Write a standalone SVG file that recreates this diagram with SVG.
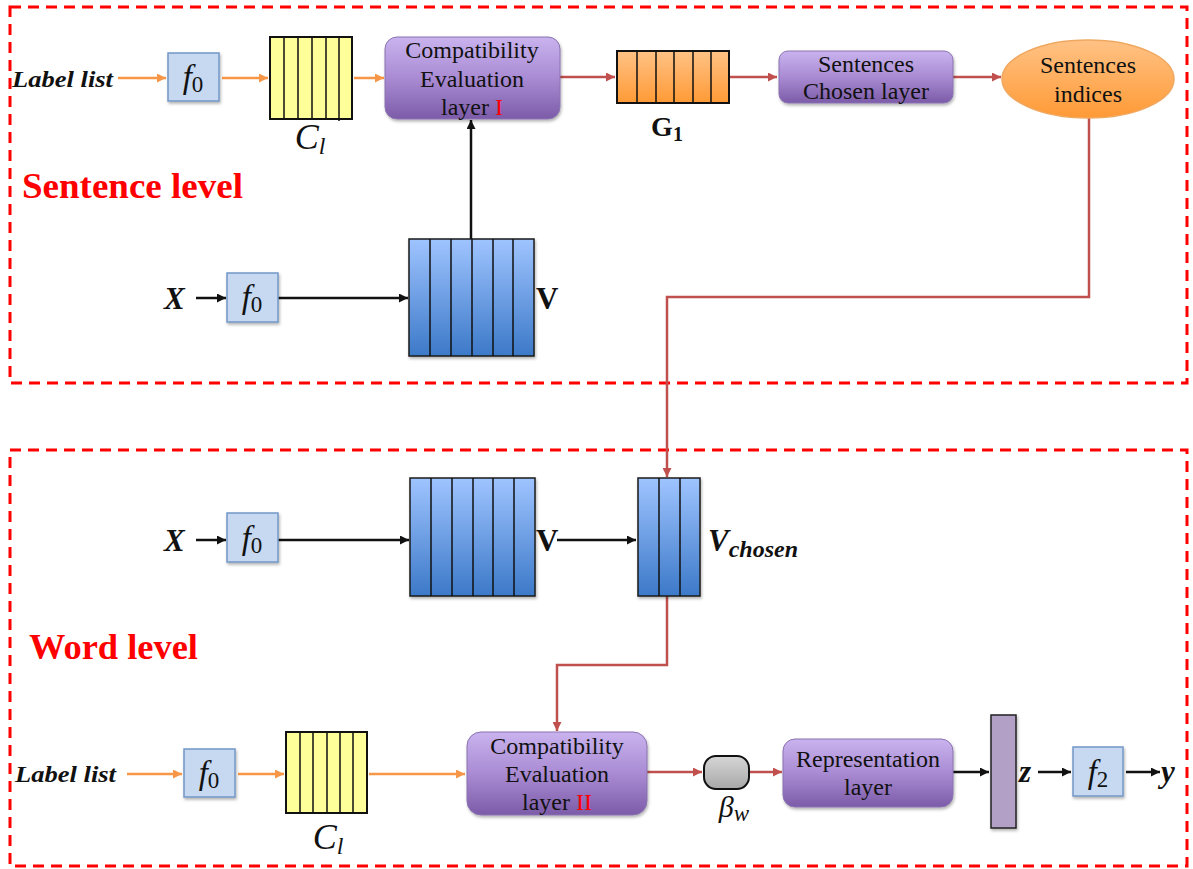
<svg xmlns="http://www.w3.org/2000/svg" width="1193" height="869" viewBox="0 0 1193 869">
<style>
.frame{fill:none;stroke:#ff0000;stroke-width:3;stroke-dasharray:11 7}
.lvl{font-family:"Liberation Serif",serif;font-weight:bold;font-size:36px;fill:#ff0000}
.lbl{font-family:"Liberation Serif",serif;font-size:24px;fill:#111;text-anchor:middle}
.red{fill:#ff0000}
.math{font-family:"Liberation Serif",serif;fill:#111}
.bi{font-weight:bold;font-style:italic}
.fbox{fill:#c6d9f1;stroke:#7396c6;stroke-width:1.5}
.yel{fill:#ffff99;stroke:#111;stroke-width:2}
.stripeK{stroke:#111;stroke-width:1.5}
.purple{fill:url(#gPurple);stroke:#8a73b0;stroke-width:1}
.blue{fill:url(#gBlue);stroke:#1a1a1a;stroke-width:1.5}
.orangeBox{fill:url(#gOrange);stroke:#111;stroke-width:2}
.cO{fill:none;stroke:#f79646;stroke-width:2.5;marker-end:url(#aO)}
.cR{fill:none;stroke:#c0504d;stroke-width:2.5;marker-end:url(#aR)}
.cK{fill:none;stroke:#111;stroke-width:2.5;marker-end:url(#aK)}
</style>
<defs>
<linearGradient id="gPurple" x1="0" y1="0" x2="0" y2="1"><stop offset="0" stop-color="#c9b3ee"/><stop offset="0.5" stop-color="#a98bd3"/><stop offset="1" stop-color="#7c5ba8"/></linearGradient>
<linearGradient id="gBlue" x1="0" y1="0" x2="0" y2="1"><stop offset="0" stop-color="#9fc4ff"/><stop offset="1" stop-color="#3c79c8"/></linearGradient>
<linearGradient id="gOrange" x1="0" y1="0" x2="0" y2="1"><stop offset="0" stop-color="#ffc285"/><stop offset="1" stop-color="#ff9a36"/></linearGradient>
<linearGradient id="gGray" x1="0" y1="0" x2="0" y2="1"><stop offset="0" stop-color="#d6d6d6"/><stop offset="1" stop-color="#a8a8a8"/></linearGradient>
<filter id="sh" x="-10%" y="-10%" width="130%" height="140%"><feDropShadow dx="1" dy="2" stdDeviation="1.5" flood-color="#000" flood-opacity="0.3"/></filter>
<marker id="aO" viewBox="0 0 10 10" refX="10" refY="5" markerWidth="9" markerHeight="9" markerUnits="userSpaceOnUse" orient="auto"><path d="M0,0 L10,5 L0,10 z" fill="#f79646"/></marker>
<marker id="aR" viewBox="0 0 10 10" refX="10" refY="5" markerWidth="9" markerHeight="9" markerUnits="userSpaceOnUse" orient="auto"><path d="M0,0 L10,5 L0,10 z" fill="#c0504d"/></marker>
<marker id="aK" viewBox="0 0 10 10" refX="10" refY="5" markerWidth="9" markerHeight="9" markerUnits="userSpaceOnUse" orient="auto"><path d="M0,0 L10,5 L0,10 z" fill="#111"/></marker>
</defs>
<rect width="1193" height="869" fill="#fff"/>

<g id="frames">
<rect class="frame" x="10" y="7" width="1177" height="376"/>
<rect class="frame" x="10" y="450" width="1177" height="416"/>
<text class="lvl" x="22" y="198" textLength="221" lengthAdjust="spacingAndGlyphs">Sentence level</text>
<text class="lvl" x="29" y="659" textLength="169" lengthAdjust="spacingAndGlyphs">Word level</text>
</g>

<g id="connectors">
<line class="cO" x1="118" y1="78" x2="166" y2="78"/>
<line class="cO" x1="222" y1="78" x2="268" y2="78"/>
<line class="cO" x1="354" y1="78" x2="384" y2="78"/>
<line class="cR" x1="560" y1="77" x2="615" y2="77"/>
<line class="cR" x1="729" y1="77" x2="777" y2="77"/>
<line class="cR" x1="953" y1="77" x2="1001" y2="77"/>
<line class="cK" x1="471" y1="239" x2="471" y2="120"/>
<line class="cK" x1="196" y1="298" x2="226" y2="298"/>
<line class="cK" x1="278" y1="298" x2="408" y2="298"/>
<path class="cR" d="M1089,118 V297 H667 V477"/>
<line class="cK" x1="196" y1="540" x2="226" y2="540"/>
<line class="cK" x1="278" y1="540" x2="409" y2="540"/>
<line class="cK" x1="557" y1="540" x2="636" y2="540"/>
<path class="cR" d="M667,596 V665 H557 V731"/>
<line class="cO" x1="127" y1="774" x2="182" y2="774"/>
<line class="cO" x1="238" y1="774" x2="284" y2="774"/>
<line class="cO" x1="369" y1="774" x2="465" y2="774"/>
<line class="cR" x1="647" y1="772" x2="702" y2="772"/>
<line class="cR" x1="749" y1="772" x2="782" y2="772"/>
<line class="cK" x1="953" y1="772" x2="989" y2="772"/>
<line class="cK" x1="1038" y1="772" x2="1071" y2="772"/>
<line class="cK" x1="1126" y1="772" x2="1160" y2="772"/>
</g>

<g id="labelList1"><text class="math bi" x="12" y="87" font-size="24" textLength="101" lengthAdjust="spacingAndGlyphs">Label list</text></g>
<g id="f0_top1">
<rect class="fbox" x="168" y="53" width="51" height="48" filter="url(#sh)"/>
<text class="math" x="193" y="88" font-size="33" text-anchor="middle"><tspan font-style="italic">f</tspan><tspan font-size="23" dy="4">0</tspan></text>
</g>
<g id="Cl_top">
<rect class="yel" x="270" y="37" width="82" height="82"/>
<path class="stripeK" d="M284,37V119M298,37V119M312,37V119M326,37V119M339,37V121"/>
<text class="math" x="310" y="149" font-size="36" text-anchor="middle"><tspan font-style="italic">C</tspan><tspan font-style="italic" font-size="24" dy="5">l</tspan></text>
</g>
<g id="CE1">
<rect class="purple" x="385" y="37" width="175" height="82" rx="12" filter="url(#sh)"/>
<text class="lbl" x="472" y="58">Compatibility</text>
<text class="lbl" x="472" y="87">Evaluation</text>
<text class="lbl" x="472" y="115">layer <tspan class="red">I</tspan></text>
</g>
<g id="G1">
<rect class="orangeBox" x="617" y="51" width="112" height="52"/>
<path class="stripeK" d="M637,51V103M656,51V103M674,51V103M693,51V103M711,51V103"/>
<text class="math" x="667" y="136" font-size="28" font-weight="bold" text-anchor="middle">G<tspan font-size="20" dy="5">1</tspan></text>
</g>
<g id="SCL">
<rect class="purple" x="779" y="51" width="174" height="52" rx="9" filter="url(#sh)"/>
<text class="lbl" x="866" y="72">Sentences</text>
<text class="lbl" x="866" y="99">Chosen layer</text>
</g>
<g id="indices">
<ellipse cx="1088" cy="79" rx="86" ry="39" fill="url(#gOrange)" stroke="#f0a860" stroke-width="1.5"/>
<text class="lbl" x="1088" y="73">Sentences</text>
<text class="lbl" x="1088" y="102">indices</text>
</g>
<g id="X_top"><text class="math bi" x="164" y="309" font-size="31">X</text></g>
<g id="f0_top2">
<rect class="fbox" x="227" y="273" width="51" height="49" filter="url(#sh)"/>
<text class="math" x="252" y="308" font-size="33" text-anchor="middle"><tspan font-style="italic">f</tspan><tspan font-size="23" dy="4">0</tspan></text>
</g>
<g id="V_top">
<rect class="blue" x="409" y="239" width="125" height="117" filter="url(#sh)"/>
<path class="stripeK" d="M430,239V356M451,239V356M472,239V356M493,239V356M513,239V356"/>
<text class="math" x="536" y="309" font-size="31" font-weight="bold">V</text>
</g>

<g id="X_bot"><text class="math bi" x="164" y="551" font-size="31">X</text></g>
<g id="f0_bot1">
<rect class="fbox" x="227" y="513" width="51" height="49" filter="url(#sh)"/>
<text class="math" x="252" y="549" font-size="33" text-anchor="middle"><tspan font-style="italic">f</tspan><tspan font-size="23" dy="4">0</tspan></text>
</g>
<g id="V_bot">
<rect class="blue" x="410" y="478" width="125" height="118" filter="url(#sh)"/>
<path class="stripeK" d="M431,478V596M452,478V596M473,478V596M493,478V596M514,478V596"/>
<text class="math" x="536" y="551" font-size="31" font-weight="bold">V</text>
</g>
<g id="Vchosen">
<rect class="blue" x="638" y="478" width="62" height="118" filter="url(#sh)"/>
<path class="stripeK" d="M659,478V596M680,478V596"/>
<text class="math bi" x="708" y="551" font-size="31">V<tspan font-size="24" dy="6">chosen</tspan></text>
</g>
<g id="labelList2"><text class="math bi" x="15" y="782" font-size="24" textLength="101" lengthAdjust="spacingAndGlyphs">Label list</text></g>
<g id="f0_bot2">
<rect class="fbox" x="184" y="749" width="51" height="48" filter="url(#sh)"/>
<text class="math" x="209" y="784" font-size="33" text-anchor="middle"><tspan font-style="italic">f</tspan><tspan font-size="23" dy="4">0</tspan></text>
</g>
<g id="Cl_bot">
<rect class="yel" x="286" y="732" width="81" height="81"/>
<path class="stripeK" d="M300,732V813M313,732V813M327,732V813M340,732V813M353,732V813"/>
<text class="math" x="328" y="849" font-size="36" text-anchor="middle"><tspan font-style="italic">C</tspan><tspan font-style="italic" font-size="24" dy="5">l</tspan></text>
</g>
<g id="CE2">
<rect class="purple" x="467" y="732" width="180" height="83" rx="14" filter="url(#sh)"/>
<text class="lbl" x="557" y="754">Compatibility</text>
<text class="lbl" x="557" y="782">Evaluation</text>
<text class="lbl" x="557" y="810">layer <tspan class="red">II</tspan></text>
</g>
<g id="beta">
<rect x="704" y="756" width="45" height="33" rx="12" fill="url(#gGray)" stroke="#111" stroke-width="2"/>
<text class="math" x="734" y="817" font-size="30" text-anchor="middle"><tspan font-style="italic">β</tspan><tspan font-style="italic" font-size="23" dy="4">w</tspan></text>
</g>
<g id="Rep">
<rect class="purple" x="783" y="739" width="170" height="68" rx="12" filter="url(#sh)"/>
<text class="lbl" x="868" y="767">Representation</text>
<text class="lbl" x="868" y="795">layer</text>
</g>
<g id="zbar">
<rect x="991" y="715" width="25" height="113" fill="#b3a0c7" stroke="#222" stroke-width="1.5" filter="url(#sh)"/>
<text class="math bi" x="1019" y="782" font-size="31">z</text>
</g>
<g id="f2">
<rect class="fbox" x="1073" y="747" width="50" height="49" filter="url(#sh)"/>
<text class="math" x="1098" y="783" font-size="33" text-anchor="middle"><tspan font-style="italic">f</tspan><tspan font-size="23" dy="4">2</tspan></text>
</g>
<g id="yout"><text class="math bi" x="1161" y="782" font-size="31">y</text></g>
</svg>
